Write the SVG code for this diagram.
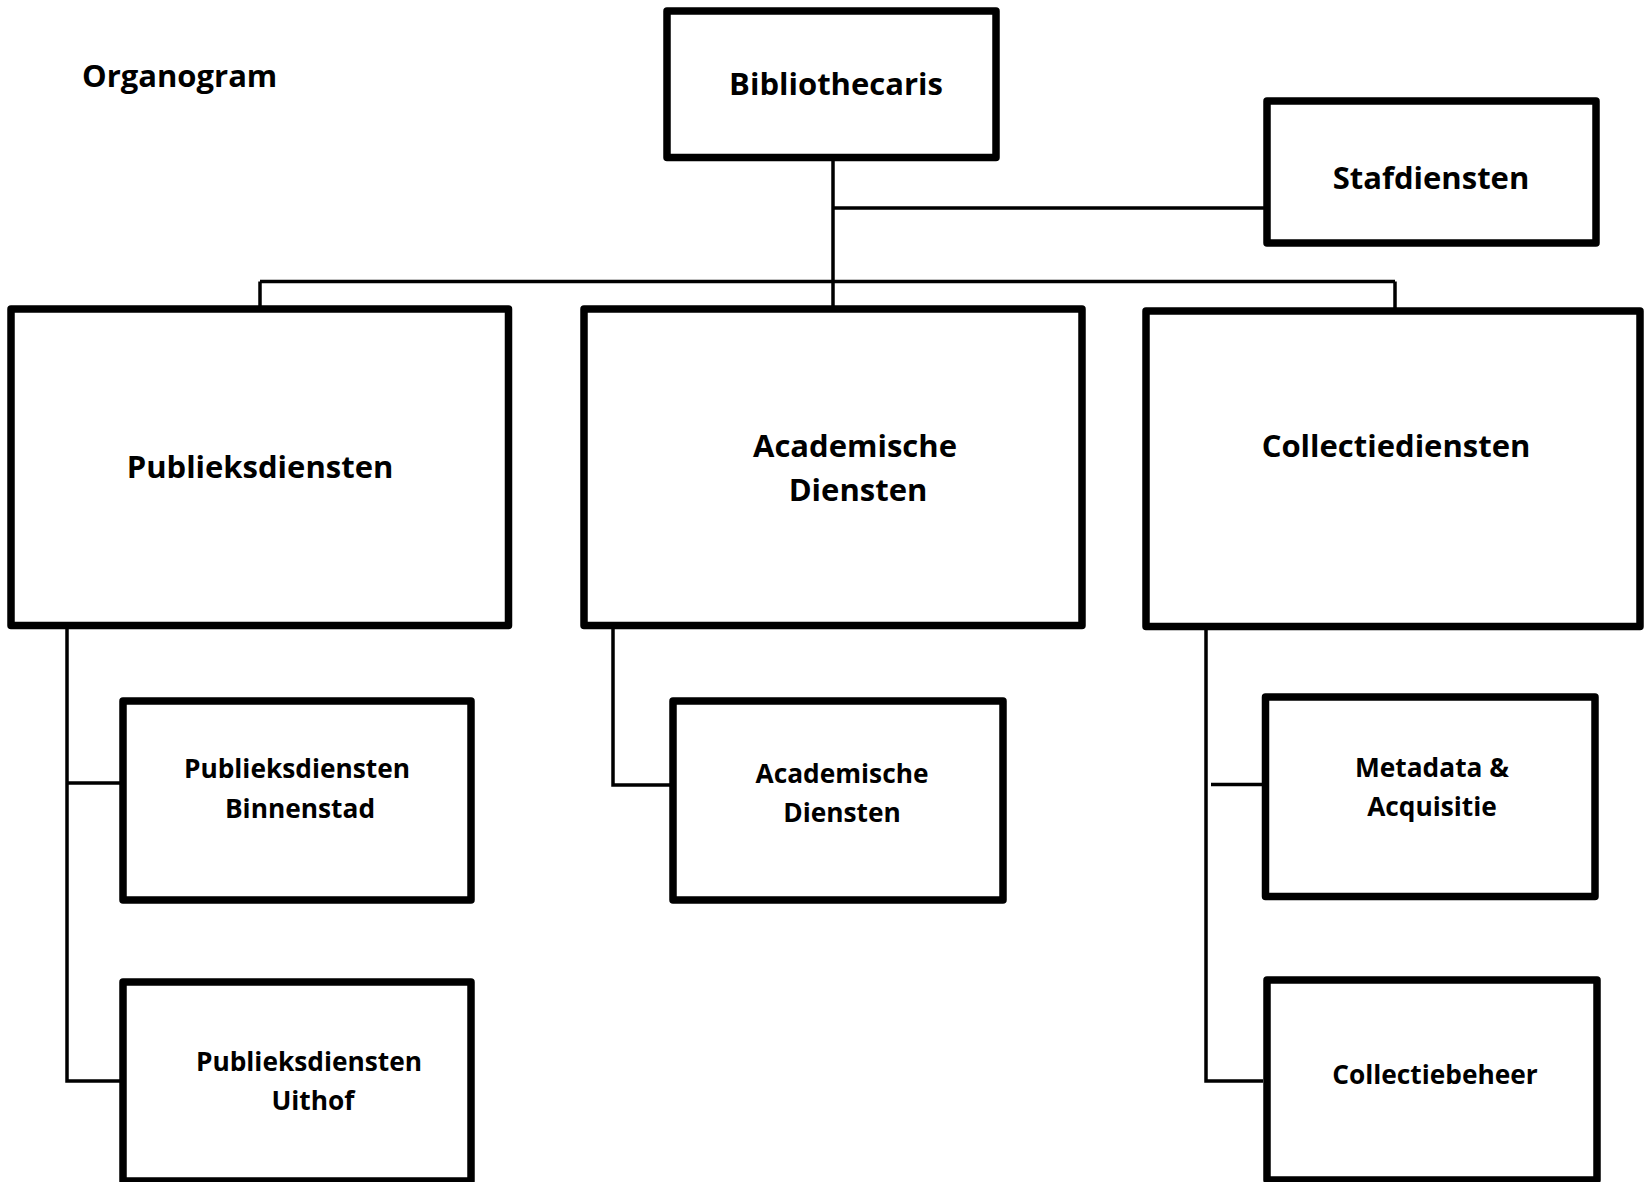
<svg xmlns="http://www.w3.org/2000/svg" width="1646" height="1182" viewBox="0 0 1646 1182">
<style>
.box{fill:#fff;stroke:#000;stroke-width:7.5;stroke-linejoin:round}
.ln{fill:none;stroke:#000;stroke-width:3.5}
text{font-family:"Open Sans","DejaVu Sans",sans-serif;font-weight:700;fill:#000;text-anchor:middle}
.lg{font-size:31px}
.sm{font-size:26.3px}
</style>
<rect width="1646" height="1182" fill="#fff"/>
<text class="lg" x="82" y="87" style="text-anchor:start">Organogram</text>
<g id="connectors">
<path class="ln" d="M833 157 V309"/>
<path class="ln" d="M833 208 H1264"/>
<path class="ln" d="M260 281.5 H1395 M260 281.5 V309 M1395 281.5 V311"/>
<path class="ln" d="M67 625 V1081 H120 M67 783 H120"/>
<path class="ln" d="M613 625 V785 H670"/>
<path class="ln" d="M1206 626 V1081 H1263 M1211 784.5 H1263"/>
</g>
<g id="bibliothecaris">
<rect class="box" x="667" y="11" width="329" height="146.5"/>
<text class="lg" x="836" y="95">Bibliothecaris</text>
</g>
<g id="stafdiensten">
<rect class="box" x="1267" y="101" width="329" height="142"/>
<text class="lg" x="1431" y="189">Stafdiensten</text>
</g>
<g id="publieksdiensten">
<rect class="box" x="11" y="309" width="497.5" height="316.5"/>
<text class="lg" x="260" y="478">Publieksdiensten</text>
</g>
<g id="academische">
<rect class="box" x="584" y="309" width="498" height="316.5"/>
<text class="lg" x="855" y="457">Academische</text>
<text class="lg" x="858" y="501">Diensten</text>
</g>
<g id="collectiediensten">
<rect class="box" x="1146" y="311" width="494" height="315.5"/>
<text class="lg" x="1396" y="457">Collectiediensten</text>
</g>
<g id="binnenstad">
<rect class="box" x="123" y="701" width="348" height="199"/>
<text class="sm" x="297" y="778">Publieksdiensten</text>
<text class="sm" x="300" y="818">Binnenstad</text>
</g>
<g id="uithof">
<rect class="box" x="123" y="982" width="348" height="199"/>
<text class="sm" x="309" y="1071">Publieksdiensten</text>
<text class="sm" x="313" y="1110">Uithof</text>
</g>
<g id="academische-sub">
<rect class="box" x="673" y="701" width="330" height="199"/>
<text class="sm" x="842" y="783">Academische</text>
<text class="sm" x="842" y="822">Diensten</text>
</g>
<g id="metadata">
<rect class="box" x="1265.5" y="697" width="329.5" height="199.5"/>
<text class="sm" x="1432" y="777">Metadata &amp;</text>
<text class="sm" x="1432" y="816">Acquisitie</text>
</g>
<g id="collectiebeheer">
<rect class="box" x="1267" y="980" width="330" height="200"/>
<text class="sm" x="1435" y="1084">Collectiebeheer</text>
</g>
</svg>
